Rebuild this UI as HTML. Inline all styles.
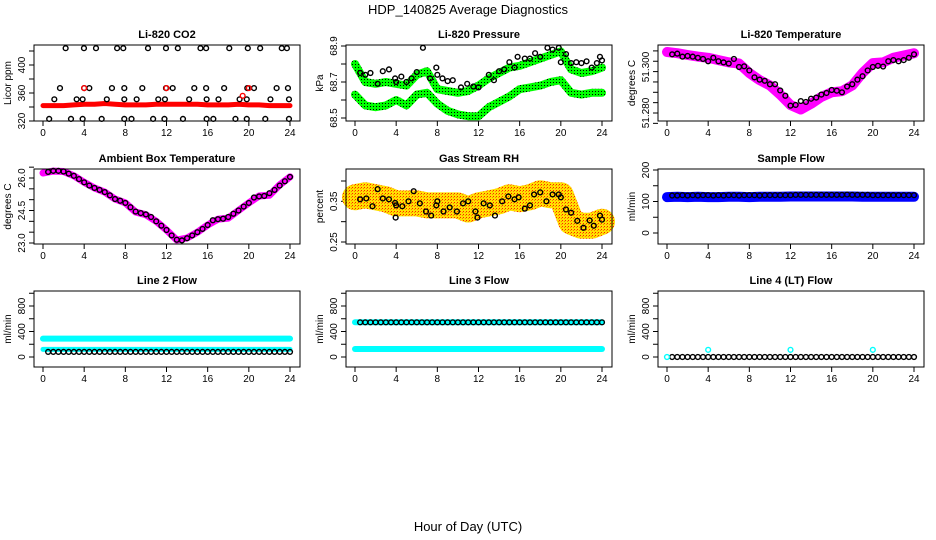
<!DOCTYPE html>
<html><head><meta charset="utf-8"><style>
html,body{margin:0;padding:0;background:#fff;}
svg{display:block;font-family:"Liberation Sans",sans-serif;}
</style></head><body>
<svg id="chart" width="936" height="540" viewBox="0 0 936 540" xmlns="http://www.w3.org/2000/svg">
<defs>
<pattern id="gdots" width="3" height="3" patternUnits="userSpaceOnUse"><rect width="3" height="3" fill="#00ff00"/><rect x="1" y="1" width="1" height="1" fill="#000"/></pattern>
<pattern id="ydots" width="3" height="3" patternUnits="userSpaceOnUse"><rect width="3" height="3" fill="#ffe000"/><rect x="1" y="1" width="1" height="1" fill="#ff2000"/><rect x="0" y="2" width="1" height="1" fill="#ff8000"/></pattern>
</defs>
<text x="468" y="14" text-anchor="middle" font-size="13">HDP_140825  Average Diagnostics</text>
<text x="468" y="531" text-anchor="middle" font-size="13">Hour of Day (UTC)</text>
</svg>
<script>
// ---- shared hour arrays ----
const HB = [0,1,2,3,4,5,6,7,8,9,10,11,12,13,14,15,16,17,18,19,20,21,22,23,24];
const HH = [0.5,1,1.5,2,2.5,3,3.5,4,4.5,5,5.5,6,6.5,7,7.5,8,8.5,9,9.5,10,10.5,11,11.5,12,12.5,13,13.5,14,14.5,15,15.5,16,16.5,17,17.5,18,18.5,19,19.5,20,20.5,21,21.5,22,22.5,23,23.5,24];
const xTicks = [0,4,8,12,16,20,24];

// ---- CO2 ----
const co2Band = [342,342,342,343,344,344,345,344,343,343,343,344,344,344,344,344,343,343,343,344,343,343,342,342,342];
const co2H = [2.2,3.98,5.15,7.2,7.8,10.2,11.95,13.1,15.3,15.85,18.1,19.9,21.1,23.2,23.7,
 1.65,4.0,4.5,6.7,7.9,9.65,11.95,12.6,14.7,15.85,17.6,19.85,20.5,22.7,23.8,
 1.1,3.27,3.85,6.2,7.9,9.1,11.2,11.85,14.2,15.9,17.05,19.1,19.8,22.1,23.9,
 0.6,2.72,3.85,5.7,7.9,8.6,10.7,11.8,13.6,15.9,16.55,18.7,19.8,21.6,23.9];
const co2V = [424,424,424,424,424,424,424,424,424,424,424,424,424,424,424,
 367,367,367,367,367,367,367,367,367,367,367,367,367,367,367,
 351,351,351,351,351,351,351,351,351,351,351,351,351,351,351,
 323,323,323,323,323,323,323,323,323,323,323,323,323,323,323];
const co2RedH = [4,12,19.4,20];
const co2RedV = [367,367,356,367];

// ---- Pressure ----
const presUpper = [68.80,68.70,68.69,68.70,68.69,68.68,68.74,68.76,68.66,68.65,68.64,68.65,68.68,68.72,68.75,68.78,68.79,68.81,68.83,68.85,68.87,68.77,68.75,68.76,68.78];
const presLower = [68.63,68.57,68.56,68.57,68.60,68.57,68.63,68.64,68.58,68.54,68.52,68.51,68.51,68.56,68.59,68.62,68.66,68.67,68.68,68.70,68.71,68.64,68.63,68.64,68.64];
const presCH = [0.5,1,1.5,2.2,2.7,3.3,3.9,4,4.5,5,5.5,6,6.6,7.3,7.9,8,8.5,9,9.5,10.3,10.9,11.5,12,13,13.5,14,14.5,15,15.5,15.8,16.5,17,17.5,18,18.7,19.2,19.8,20,20.5,21,21.5,22,22.5,23,23.5,23.8,24];
const presCV = [68.75,68.74,68.75,68.69,68.76,68.77,68.72,68.70,68.73,68.70,68.72,68.755,68.89,68.72,68.78,68.74,68.72,68.705,68.71,68.67,68.69,68.675,68.67,68.74,68.71,68.76,68.77,68.81,68.78,68.84,68.83,68.83,68.86,68.84,68.89,68.88,68.89,68.81,68.855,68.805,68.81,68.805,68.815,68.78,68.805,68.84,68.82];

// ---- Li-820 temperature ----
const ltBand = [51.3065,51.306,51.3052,51.3045,51.304,51.303,51.302,51.3015,51.2974,51.2943,51.292,51.288,51.2835,51.2815,51.284,51.287,51.289,51.2895,51.292,51.2974,51.3017,51.302,51.304,51.305,51.306];
const ltCirc = [51.3055,51.3058,51.3045,51.3048,51.3045,51.304,51.3035,51.3025,51.304,51.3025,51.302,51.3015,51.3035,51.300,51.3003,51.2985,51.2955,51.2945,51.294,51.2925,51.2925,51.2898,51.2875,51.2832,51.2835,51.2852,51.2848,51.2862,51.2867,51.288,51.2887,51.290,51.2897,51.289,51.2915,51.2925,51.2945,51.296,51.2985,51.300,51.3005,51.3002,51.3025,51.303,51.3025,51.303,51.304,51.3055];

// ---- Ambient box temperature ----
const abBand = [26.23,26.32,26.3,26.1,25.8,25.54,25.35,25.03,24.85,24.43,24.3,24.0,23.6,23.14,23.23,23.5,23.83,24.1,24.15,24.5,24.85,25.17,25.2,25.68,26.05];
const abCirc = [26.28,26.33,26.33,26.3,26.2,26.1,25.95,25.8,25.65,25.54,25.45,25.35,25.2,25.03,24.95,24.85,24.65,24.45,24.38,24.32,24.2,24.0,23.8,23.6,23.35,23.15,23.12,23.22,23.35,23.5,23.65,23.83,24.05,24.1,24.12,24.2,24.35,24.5,24.68,24.85,25.1,25.15,25.17,25.3,25.45,25.65,25.85,26.05];

// ---- Gas stream RH ----
const rhBand = [0.36,0.365,0.36,0.355,0.345,0.345,0.345,0.34,0.34,0.34,0.34,0.33,0.34,0.345,0.35,0.36,0.355,0.36,0.37,0.365,0.365,0.30,0.29,0.29,0.30];
const rhCH = [0.5,1.1,1.7,2.2,2.7,3.3,3.9,3.95,4.0,4.6,5.2,5.7,6.3,6.9,7.4,7.9,8,8.6,9.2,9.9,10.5,11,11.7,11.9,12.5,13.1,13.6,14.3,14.9,15.5,15.9,16.5,17,17.4,18,18.6,19.2,19.8,20,20.5,21,21.6,22.2,22.8,23.2,23.8,24];
const rhCV = [0.355,0.357,0.338,0.38,0.357,0.355,0.346,0.31,0.34,0.338,0.35,0.375,0.345,0.325,0.315,0.34,0.35,0.325,0.335,0.325,0.345,0.35,0.325,0.31,0.345,0.34,0.315,0.35,0.362,0.355,0.36,0.332,0.34,0.367,0.372,0.35,0.367,0.367,0.36,0.33,0.322,0.302,0.285,0.303,0.29,0.315,0.305];

// ---- Sample flow ----
const sfBand = [114,115,114,115,114,114,115,115,114,115,115,115,116,116,116,116,116,116,116,115,115,115,115,115,115];
const sfCirc = [119,119,120,119,120,119,120,120,119,120,119,120,120,119,120,120,120,119,120,120,120,120,120,120,121,121,121,121,121,121,121,121,121,121,122,121,121,121,121,120,120,120,120,120,120,120,120,120];

// ---- Line flows ----
const l2Upper = [288,288,288,288,288,288,288,288,288,288,288,288,288,288,288,288,288,288,288,288,288,288,288,288,288];
const l2Lower = [120,120,120,120,120,120,120,120,120,120,120,120,120,120,120,120,120,120,120,120,120,120,120,120,120];
const l2Circ = [80,80,80,80,80,80,80,80,80,80,80,80,80,80,80,80,80,80,80,80,80,80,80,80,80,80,80,80,80,80,80,80,80,80,80,80,80,80,80,80,80,80,80,80,80,80,80,80];
const l3Upper = [544,544,544,544,544,544,544,544,544,544,544,544,544,544,544,544,544,544,544,544,544,544,544,544,544];
const l3Lower = [125,125,125,125,125,125,125,125,125,125,125,125,125,125,125,125,125,125,125,125,125,125,125,125,125];
const l3Circ = [544,544,544,544,544,544,544,544,544,544,544,544,544,544,544,544,544,544,544,544,544,544,544,544,544,544,544,544,544,544,544,544,544,544,544,544,544,544,544,544,544,544,544,544,544,544,544,544];
const l4Circ = [0,0,0,0,0,0,0,0,0,0,0,0,0,0,0,0,0,0,0,0,0,0,0,0,0,0,0,0,0,0,0,0,0,0,0,0,0,0,0,0,0,0,0,0,0,0,0,0];
const l4CyanH = [0,4,12,20];
const l4CyanV = [0,112,112,112];

const svg = document.getElementById('chart');
const NS = 'http://www.w3.org/2000/svg';
function mk(tag, attrs){ const e=document.createElementNS(NS,tag); for(const k in attrs) e.setAttribute(k,attrs[k]); return e; }

function panel(o){
  const g = mk('g',{});
  
  
  svg.appendChild(g);
  o.g = g;
  o.sx = h => o.x0 + h*(o.x24-o.x0)/24;
  o.sy = v => o.yp0 + (v-o.yv0)*(o.yp1-o.yp0)/(o.yv1-o.yv0);
  const t = mk('text',{x:(o.L+o.R)/2, y:o.T-7, 'text-anchor':'middle','font-size':'11','font-weight':'bold'});
  t.textContent = o.title;
  
  
  g.appendChild(t);
  const yl = mk('text',{x:0,y:0,'text-anchor':'middle','font-size':'10',transform:`translate(${o.L-23},${(o.T+o.B)/2}) rotate(-90)`});
  yl.textContent = o.ylab;
  
  
  g.appendChild(yl);
  xTicks.forEach(h=>{
    const x=o.sx(h);
    const tk = mk('line',{x1:x,x2:x,y1:o.B,y2:o.B+5,stroke:'#000','stroke-width':1});
    
    
    g.appendChild(tk);
    const lb = mk('text',{x:x,y:o.B+15,'text-anchor':'middle','font-size':'10'});
    lb.textContent = h;
    
    
    g.appendChild(lb);
  });
  o.ticks.forEach(v=>{
    const y=o.sy(v);
    const tk = mk('line',{x1:o.L-5,x2:o.L,y1:y,y2:y,stroke:'#000','stroke-width':1});
    
    
    g.appendChild(tk);
  });
  o.labels.forEach((v,i)=>{
    const y=o.sy(v);
    const lb = mk('text',{x:0,y:0,'text-anchor':'middle','font-size':'10',transform:`translate(${o.L-9},${y}) rotate(-90)`});
    lb.textContent = o.labelText[i];
    
    
    g.appendChild(lb);
  });
  return o;
}
function frame(o){
  const r = mk('rect',{x:o.L,y:o.T,width:o.R-o.L,height:o.B-o.T,fill:'none',stroke:'#000','stroke-width':1});
  
  
  o.g.appendChild(r);
}
function band(o, hs, vs, color, w, name){
  const d = hs.map((h,i)=>(i?'L':'M')+o.sx(h).toFixed(1)+' '+o.sy(vs[i]).toFixed(1)).join(' ');
  const p = mk('path',{d:d,fill:'none',stroke:color,'stroke-width':w,'stroke-linejoin':'round','stroke-linecap':'round'});
  
  
  o.g.appendChild(p);
}
function circles(o, hs, vs, color, name){
  hs.forEach((h,i)=>{
    const c = mk('circle',{cx:o.sx(h),cy:o.sy(vs[i]),r:2.4,fill:'none',stroke:color,'stroke-width':1.4});
    
    
    o.g.appendChild(c);
  });
}

const C1={L:34,R:300,x0:43,x24:290}, C2={L:346,R:612,x0:355,x24:602}, C3={L:658,R:924,x0:667,x24:914};
const R1={T:45,B:121}, R2={T:169,B:244}, R3={T:291,B:367};

let p;
p = panel(Object.assign({name:'co2-panel',title:'Li-820 CO2',ylab:'Licor ppm',yv0:320,yp0:121,yv1:420,yp1:51,
  ticks:[320,340,360,380,400,420],labels:[320,360,400],labelText:['320','360','400']},C1,R1));
band(p,HB,co2Band,'#ff0000',5,'co2-band');
circles(p,co2H,co2V,'#000','co2-point');
circles(p,co2RedH,co2RedV,'#ff0000','co2-red-point');
frame(p);

p = panel(Object.assign({name:'pressure-panel',title:'Li-820 Pressure',ylab:'kPa',yv0:68.5,yp0:118,yv1:68.9,yp1:46,
  ticks:[68.5,68.6,68.7,68.8,68.9],labels:[68.5,68.7,68.9],labelText:['68.5','68.7','68.9']},C2,R1));
band(p,HB,presUpper,'url(#gdots)',8,'pressure-upper-band');
band(p,HB,presLower,'url(#gdots)',8,'pressure-lower-band');
circles(p,presCH,presCV,'#000','pressure-point');
frame(p);

p = panel(Object.assign({name:'li820-temp-panel',title:'Li-820 Temperature',ylab:'degrees C',yv0:51.28,yp0:113,yv1:51.30,yp1:67,
  ticks:[51.2755,51.28,51.2845,51.289,51.2935,51.298,51.3025,51.307],labels:[51.28,51.30],labelText:['51.280','51.300']},C3,R1));
band(p,HB,ltBand,'#ff00ff',10,'li820-temp-band');
circles(p,HH,ltCirc,'#000','li820-temp-point');
frame(p);

p = panel(Object.assign({name:'ambient-temp-panel',title:'Ambient Box Temperature',ylab:'degrees C',yv0:23,yp0:243,yv1:26,yp1:178,
  ticks:[23,23.5,24,24.5,25,25.5,26,26.5],labels:[23,24.5,26],labelText:['23.0','24.5','26.0']},C1,R2));
band(p,HB,abBand,'#ff00ff',7,'ambient-temp-band');
circles(p,HH,abCirc,'#000','ambient-temp-point');
frame(p);

p = panel(Object.assign({name:'gas-rh-panel',title:'Gas Stream RH',ylab:'percent',yv0:0.25,yp0:242,yv1:0.40,yp1:181,
  ticks:[0.25,0.30,0.35,0.40],labels:[0.25,0.35],labelText:['0.25','0.35']},C2,R2));
band(p,HB,rhBand,'url(#ydots)',26,'gas-rh-band');
circles(p,rhCH,rhCV,'#000','gas-rh-point');
frame(p);

p = panel(Object.assign({name:'sample-flow-panel',title:'Sample Flow',ylab:'ml/min',yv0:0,yp0:233,yv1:200,yp1:170,
  ticks:[0,50,100,150,200],labels:[0,100,200],labelText:['0','100','200']},C3,R2));
band(p,HB,sfBand,'#0000ff',10,'sample-flow-band');
circles(p,HH,sfCirc,'#000','sample-flow-point');
frame(p);

const r3 = {yv0:0,yp0:357,yv1:400,yp1:331.5,ticks:[0,200,400,600,800,1000],labels:[0,400,800],labelText:['0','400','800'],ylab:'ml/min'};
p = panel(Object.assign({name:'line2-flow-panel',title:'Line 2 Flow'},r3,C1,R3));
band(p,HB,l2Upper,'#00ffff',6,'line2-upper-band');
band(p,HB,l2Lower,'#00ffff',5,'line2-lower-band');
circles(p,HH,l2Circ,'#000','line2-point');
frame(p);

p = panel(Object.assign({name:'line3-flow-panel',title:'Line 3 Flow'},r3,C2,R3));
band(p,HB,l3Lower,'#00ffff',6,'line3-lower-band');
band(p,HB,l3Upper,'#00ffff',6,'line3-upper-band');
circles(p,HH,l3Circ,'#000','line3-point');
frame(p);

p = panel(Object.assign({name:'line4-flow-panel',title:'Line 4 (LT) Flow'},r3,C3,R3));
circles(p,HH,l4Circ,'#000','line4-point');
circles(p,l4CyanH,l4CyanV,'#00ffff','line4-cyan-point');
frame(p);
</script>
</body></html>
